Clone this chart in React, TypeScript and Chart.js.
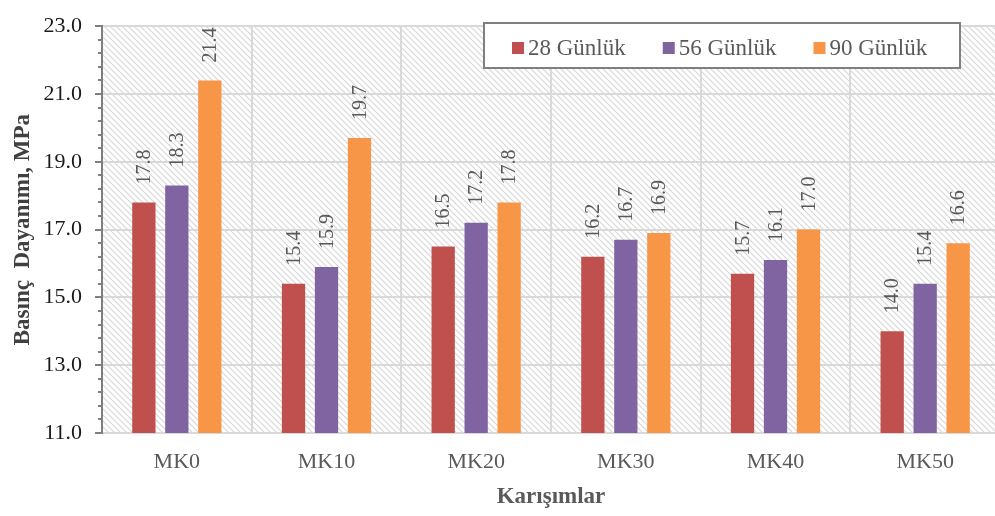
import React, { useEffect, useRef } from "react";
import { Chart, registerables } from "chart.js";

Chart.register(...registerables);

const categories = ["MK0", "MK10", "MK20", "MK30", "MK40", "MK50"];
const seriesNames = ["28 Günlük", "56 Günlük", "90 Günlük"];
const day28 = [17.8, 15.4, 16.5, 16.2, 15.7, 14.0];
const day56 = [18.3, 15.9, 17.2, 16.7, 16.1, 15.4];
const day90 = [21.4, 19.7, 17.8, 16.9, 17.0, 16.6];
const seriesColors = ["#C0504D", "#8064A2", "#F79646"];
const yMin = 11;
const yMax = 23;
const yStep = 2;
const yMinorStep = 0.4;
const yTitle = "Basınç  Dayanımı, MPa";
const xTitle = "Karışımlar";

const FONT = '"Liberation Serif", "Times New Roman", serif';

const hatchPlugin = {
  id: "hatch",
  beforeDraw(chart: any) {
    const { ctx, chartArea } = chart;
    const { left, top, right, bottom } = chartArea;
    ctx.save();
    ctx.fillStyle = "#ffffff";
    ctx.fillRect(0, 0, chart.width, chart.height);
    const tile = document.createElement("canvas");
    tile.width = 6;
    tile.height = 6;
    const t = tile.getContext("2d")!;
    t.strokeStyle = "#d6d6d6";
    t.lineWidth = 1.1;
    t.beginPath();
    t.moveTo(-1, -1);
    t.lineTo(7, 7);
    t.moveTo(-1, 5);
    t.lineTo(1, 7);
    t.moveTo(5, -1);
    t.lineTo(7, 1);
    t.stroke();
    const pattern = ctx.createPattern(tile, "repeat");
    ctx.fillStyle = pattern;
    ctx.fillRect(left, top, right - left, bottom - top);
    ctx.restore();
  },
};

const labelPlugin = {
  id: "barLabels",
  afterDatasetsDraw(chart: any) {
    const { ctx } = chart;
    chart.data.datasets.forEach((ds: any, i: number) => {
      const meta = chart.getDatasetMeta(i);
      meta.data.forEach((bar: any, j: number) => {
        const v = ds.data[j];
        ctx.save();
        ctx.translate(bar.x + 1, bar.y - 18);
        ctx.rotate(-Math.PI / 2);
        ctx.textAlign = "left";
        ctx.textBaseline = "middle";
        ctx.font = `20px ${FONT}`;
        ctx.fillStyle = "#595959";
        ctx.fillText(Number(v).toFixed(1), 0, 0);
        ctx.restore();
      });
    });
  },
};

const minorTickPlugin = {
  id: "minorTicks",
  afterDraw(chart: any) {
    const { ctx } = chart;
    const ys = chart.scales.y;
    const left = chart.chartArea.left;
    ctx.save();
    ctx.strokeStyle = "#7f7f7f";
    ctx.lineWidth = 2;
    const n = Math.round((yMax - yMin) / yMinorStep);
    for (let k = 0; k <= n; k++) {
      const v = yMin + k * yMinorStep;
      const rem = Math.abs(((v - yMin) / yStep) - Math.round((v - yMin) / yStep));
      if (rem < 1e-6) continue;
      const py = Math.round(ys.getPixelForValue(v));
      ctx.beginPath();
      ctx.moveTo(left - 4, py);
      ctx.lineTo(left, py);
      ctx.stroke();
    }
    ctx.restore();
  },
};

const legendPlugin = {
  id: "boxLegend",
  afterDraw(chart: any) {
    const { ctx } = chart;
    const bx = 484, by = 23, bw = 476, bh = 45;
    ctx.save();
    ctx.fillStyle = "#ffffff";
    ctx.fillRect(bx, by, bw, bh);
    ctx.strokeStyle = "#808080";
    ctx.lineWidth = 2;
    ctx.strokeRect(bx, by, bw, bh);
    ctx.font = `23px ${FONT}`;
    ctx.textBaseline = "alphabetic";
    ctx.textAlign = "left";
    let x = 512;
    chart.data.datasets.forEach((ds: any) => {
      ctx.fillStyle = ds.backgroundColor;
      ctx.fillRect(x, 42, 12, 12);
      ctx.fillStyle = "#595959";
      ctx.fillText(ds.label, x + 16, 55);
      x += 16 + ctx.measureText(ds.label).width + 37;
    });
    ctx.restore();
  },
};

export default function App() {
  const ref = useRef<HTMLCanvasElement | null>(null);

  useEffect(() => {
    if (!ref.current) return;
    const data = [day28, day56, day90];
    const chart = new Chart(ref.current, {
      type: "bar",
      data: {
        labels: categories,
        datasets: seriesNames.map((name, i) => ({
          label: name,
          data: data[i],
          backgroundColor: seriesColors[i],
          borderWidth: 0,
          categoryPercentage: 0.661,
          barPercentage: 0.706,
        })),
      },
      options: {
        responsive: false,
        animation: false,
        devicePixelRatio: 1,
        layout: { padding: { top: 13, left: 0, right: 0, bottom: 0 } },
        plugins: {
          legend: { display: false },
          tooltip: { enabled: false },
        },
        scales: {
          x: {
            ticks: {
              font: { family: FONT, size: 22 },
              color: "#595959",
              padding: 16,
            },
            grid: {
              color: "#d9d9d9",
              lineWidth: 2,
              drawTicks: false,
              offset: true,
            },
            border: { color: "#d9d9d9", width: 2 },
            title: {
              display: true,
              text: xTitle,
              font: { family: FONT, size: 23, weight: "bold" },
              color: "#595959",
              padding: { top: 0, bottom: 5 },
            },
            afterFit: (s: any) => {
              s.height = 83;
            },
          },
          y: {
            min: yMin,
            max: yMax,
            ticks: {
              stepSize: yStep,
              callback: (v: any) => Number(v).toFixed(1),
              font: { family: FONT, size: 22 },
              color: "#1a1a1a",
              padding: 13,
            },
            grid: {
              color: "#d9d9d9",
              lineWidth: 2,
              drawTicks: true,
              tickLength: 7,
              tickColor: "#7f7f7f",
              tickWidth: 2,
            },
            border: { color: "#7f7f7f", width: 2 },
            title: {
              display: true,
              text: yTitle,
              font: { family: FONT, size: 23, weight: "bold" },
              color: "#404040",
              padding: { top: 9, bottom: 0 },
            },
            afterFit: (s: any) => {
              s.width = 102;
            },
          },
        },
      } as any,
      plugins: [hatchPlugin, labelPlugin, minorTickPlugin, legendPlugin],
    });
    return () => chart.destroy();
  }, []);

  return (
    <div
      style={{
        position: "fixed",
        left: 0,
        top: 0,
        width: 995,
        height: 516,
        overflow: "hidden",
        background: "#ffffff",
      }}
    >
      <canvas ref={ref} width={1000} height={516} style={{ width: 1000, height: 516 }} />
    </div>
  );
}
